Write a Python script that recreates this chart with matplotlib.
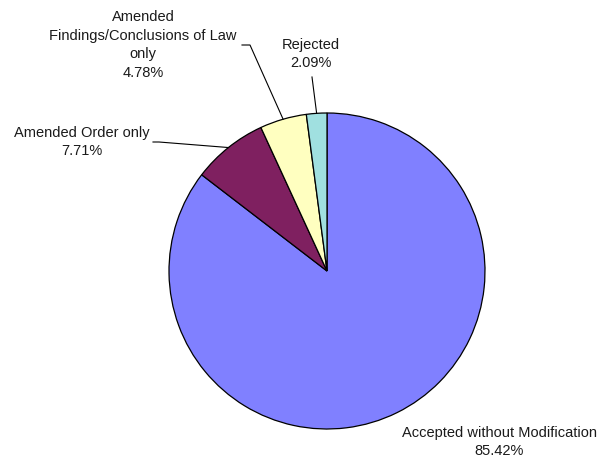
import matplotlib
matplotlib.use('Agg')
import matplotlib.pyplot as plt
import numpy as np

plt.rcParams['font.family'] = ['Liberation Sans', 'DejaVu Sans']

# data, clockwise from 12 o'clock
labels = ['Accepted without Modification', 'Amended Order only',
          'Amended\nFindings/Conclusions of Law\nonly', 'Rejected']
shares = [85.42, 7.71, 4.78, 2.09]
colors = ['#8080FF', '#7F2060', '#FFFFC0', '#A0E0E0']

W, H = 600, 459
fig = plt.figure(figsize=(6, 4.59), dpi=100)
ax = fig.add_axes([0, 0, 1, 1])

cx, cy, r = 327, H - 271, 158
wedges, _ = ax.pie(shares, colors=colors, startangle=90, counterclock=False,
                   center=(cx, cy), radius=r,
                   wedgeprops=dict(edgecolor='black', linewidth=0.9), frame=True)
ax.set_xlim(0, W)
ax.set_ylim(0, H)
ax.set_aspect('equal')
ax.axis('off')

# label block centres (pixels from top) and leader start points
label_pos = [(499, 442), (82, 142), (143, 45), (311, 54)]
leader = [None, [(153, 142), (159, 142)], [(242, 45), (250, 45)], [(312, 77)]]

for w, lab, s, (lx, ly), ld in zip(wedges, labels, shares, label_pos, leader):
    ax.text(lx, H - ly, '%s\n%.2f%%' % (lab, s), ha='center', va='center',
            fontsize=10.5, linespacing=1.45, color='#1a1a1a')
    if ld is not None:
        mid = np.deg2rad((w.theta1 + w.theta2) / 2)
        ex, ey = cx + r * np.cos(mid), cy + r * np.sin(mid)
        xs = [p[0] for p in ld] + [ex]
        ys = [H - p[1] for p in ld] + [ey]
        ax.plot(xs, ys, color='black', linewidth=0.8)

fig.savefig('out.png', dpi=100)
